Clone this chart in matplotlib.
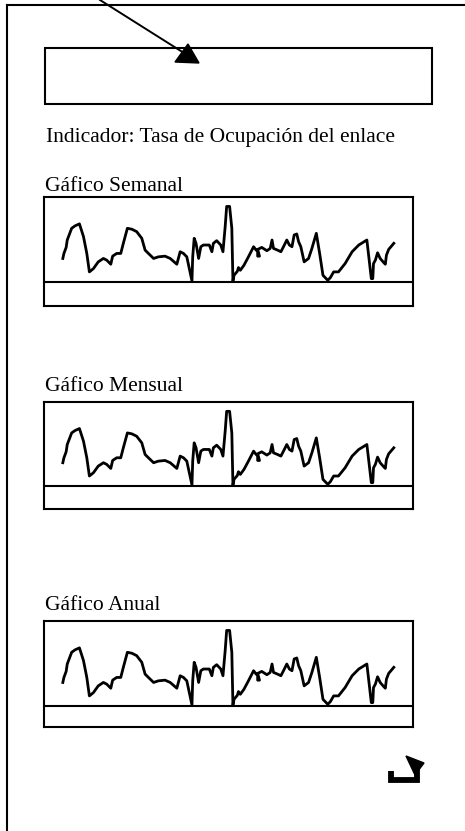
import numpy as np
import matplotlib
matplotlib.use('Agg')
import matplotlib.pyplot as plt
from matplotlib.patches import Rectangle, Polygon

# link occupancy trace (same sketch in all three panels), x = % of period, y = % occupancy
tiempo = [5.1, 5.4, 6.0, 6.3, 7.5, 8.4, 9.6, 10.7, 11.6, 12.3, 13.4, 14.7, 16.1, 17.0,
          18.1, 18.6, 19.7, 20.8, 21.5, 22.6, 23.8, 25.1, 26.5, 27.4, 28.3, 29.7, 31.0,
          32.8, 34.2, 36.0, 36.9, 37.8, 38.7, 40.1, 40.3, 40.7, 41.2, 41.9, 42.5, 43.2,
          44.1, 44.8, 45.5, 45.9, 46.8, 47.9, 48.5, 49.1, 49.5, 50.3, 50.9, 51.2, 51.5,
          52.4, 52.7, 53.2, 54.2, 55.4, 56.8, 57.5, 57.9, 57.9, 58.4, 57.9, 59.0, 60.4,
          61.3, 61.8, 62.2, 63.3, 64.2, 64.9, 65.8, 66.5, 67.2, 67.8, 68.5, 69.0, 69.6,
          70.5, 71.7, 72.6, 73.8, 74.7, 75.6, 76.9, 77.6, 78.5, 79.8, 81.6, 83.5, 85.3,
          87.5, 88.7, 89.1, 89.3, 89.8, 90.4, 91.1, 91.9, 92.5, 92.8, 93.4, 94.8]
ocupacion = [27.7, 33.6, 40.7, 49.4, 63.2, 66.0, 68.4, 53.4, 33.6, 11.9, 15.8, 23.7, 27.7, 25.7,
             20.9, 30.4, 33.6, 33.6, 45.5, 63.2, 62.1, 59.3, 51.4, 37.5, 33.6, 27.7, 29.6,
             30.4, 27.7, 20.9, 35.6, 33.6, 29.6, 1.2, 29.6, 51.4, 45.5, 27.7, 41.5, 43.5,
             43.5, 43.5, 35.6, 45.5, 48.6, 43.5, 35.6, 65.2, 88.9, 88.9, 63.2, 1.2, 7.9,
             12.6, 17.0, 13.8, 19.8, 29.6, 41.5, 37.5, 36.0, 30.4, 30.4, 38.3, 40.7, 36.8,
             39.5, 49.4, 39.5, 37.5, 35.6, 41.5, 49.4, 43.5, 41.5, 55.3, 56.5, 47.4, 41.5,
             23.7, 27.7, 39.5, 57.3, 33.6, 7.9, 2.0, 5.1, 11.9, 11.9, 21.7, 35.6, 43.5,
             49.4, 4.0, 4.0, 21.7, 25.7, 34.4, 27.7, 23.7, 20.9, 31.6, 38.3, 45.5]

titulos = ['Gáfico Semanal', 'Gáfico Mensual', 'Gáfico Anual']
# panel boxes in pixels: top, divider, bottom
paneles = [(197, 282, 306), (402, 486, 509), (621, 706, 727)]
titulo_y = [191, 391, 610]

W, H = 465, 831
fig = plt.figure(figsize=(W / 100, H / 100), dpi=100)
base = fig.add_axes([0, 0, 1, 1])
base.set_xlim(0, W)
base.set_ylim(H, 0)
base.axis('off')

serif = ['Liberation Serif', 'DejaVu Serif']
lw = 1.5

# outer frame (runs off right and bottom)
base.plot([7, 7], [H + 5, 5], color='black', lw=lw, solid_capstyle='projecting')
base.plot([7, W + 5], [5, 5], color='black', lw=lw)

# top box with arrow
base.add_patch(Rectangle((45, 48), 387, 56, fill=False, ec='black', lw=lw))
base.plot([100, 184], [0, 53], color='black', lw=1.4)
base.add_patch(Polygon([(188, 44), (175, 62), (199, 63)], closed=True, fc='black', ec='black'))

base.text(46, 142, 'Indicador: Tasa de Ocupación del enlace', family=serif, fontsize=15.5,
          va='baseline', ha='left')

x0, x1 = 44, 413
for (top, div, bot), t, ty in zip(paneles, titulos, titulo_y):
    base.text(45, ty, t, family=serif, fontsize=15.5, va='baseline', ha='left')
    ax = fig.add_axes([x0 / W, 1 - bot / H, (x1 - x0) / W, (bot - top) / H])
    ylow = -(bot - div) / (div - top) * 100
    ax.set_xlim(0, 100)
    ax.set_ylim(ylow, 100)
    ax.axhline(0, color='black', lw=lw)
    ax.plot(tiempo, ocupacion, color='black', lw=2.0)
    ax.set_xticks([])
    ax.set_yticks([])
    for s in ax.spines.values():
        s.set_linewidth(lw)

# return icon at bottom right
base.plot([391, 391, 417, 417], [771, 780, 780, 767], color='black', lw=4.2,
          solid_joinstyle='miter', solid_capstyle='butt')
base.add_patch(Polygon([(406, 756), (424, 763), (415, 775)], closed=True, fc='black', ec='black'))

fig.savefig('out.png', dpi=100)
